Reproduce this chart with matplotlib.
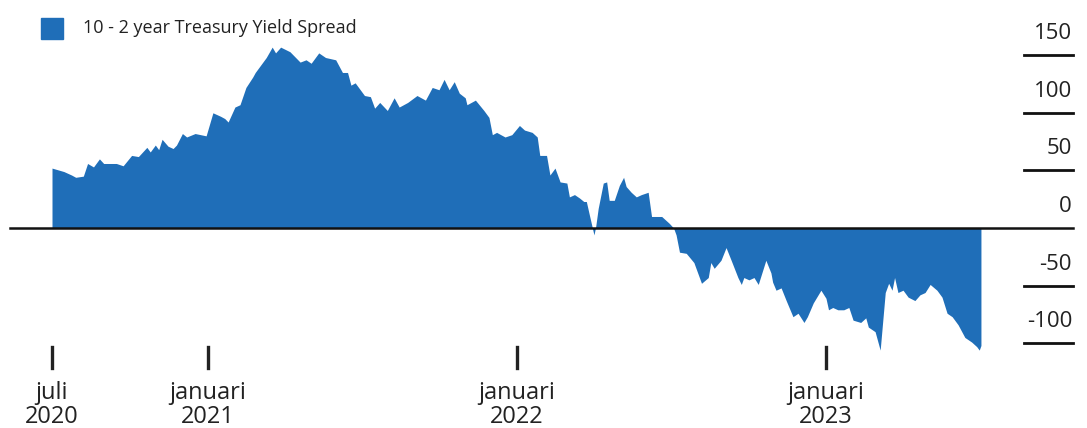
import matplotlib
matplotlib.use("Agg")
import matplotlib.pyplot as plt
import matplotlib.dates as mdates
import matplotlib.transforms as mtrans
from matplotlib.patches import Rectangle
import pandas as pd

plt.rcParams['font.family'] = ['Open Sans', 'DejaVu Sans']

# 10 - 2 year treasury spread (basis points)
dates = pd.to_datetime([
    '2020-07-01', '2020-07-15', '2020-07-24', '2020-07-29', '2020-08-07', '2020-08-12',
    '2020-08-19', '2020-08-26', '2020-08-31', '2020-09-06', '2020-09-15', '2020-09-23',
    '2020-10-03', '2020-10-11', '2020-10-21', '2020-10-25', '2020-10-31', '2020-11-04',
    '2020-11-08', '2020-11-15', '2020-11-21', '2020-11-25', '2020-12-02', '2020-12-07',
    '2020-12-17', '2020-12-30', '2021-01-07', '2021-01-16', '2021-01-21', '2021-01-25',
    '2021-02-02', '2021-02-08', '2021-02-15', '2021-02-23', '2021-02-26', '2021-03-04',
    '2021-03-11', '2021-03-18', '2021-03-22', '2021-03-28', '2021-04-08', '2021-04-20',
    '2021-04-27', '2021-05-03', '2021-05-12', '2021-05-20', '2021-06-01', '2021-06-09',
    '2021-06-15', '2021-06-19', '2021-06-24', '2021-07-05', '2021-07-12', '2021-07-17',
    '2021-07-23', '2021-08-01', '2021-08-09', '2021-08-15', '2021-08-25', '2021-09-05',
    '2021-09-15', '2021-09-23', '2021-10-01', '2021-10-07', '2021-10-13', '2021-10-19',
    '2021-10-25', '2021-11-01', '2021-11-03', '2021-11-13', '2021-11-23', '2021-11-29',
    '2021-12-03', '2021-12-08', '2021-12-18', '2021-12-26', '2022-01-04', '2022-01-10',
    '2022-01-19', '2022-01-25', '2022-01-28', '2022-02-05', '2022-02-09', '2022-02-15',
    '2022-02-21', '2022-03-01', '2022-03-04', '2022-03-10', '2022-03-16', '2022-03-21',
    '2022-03-24', '2022-03-28', '2022-04-02', '2022-04-04', '2022-04-07', '2022-04-13',
    '2022-04-17', '2022-04-20', '2022-04-26', '2022-05-02', '2022-05-07', '2022-05-10',
    '2022-05-16', '2022-05-22', '2022-05-28', '2022-06-05', '2022-06-09', '2022-06-15',
    '2022-06-21', '2022-06-30', '2022-07-05', '2022-07-08', '2022-07-12', '2022-07-20',
    '2022-07-29', '2022-08-07', '2022-08-15', '2022-08-18', '2022-08-22', '2022-08-30',
    '2022-09-05', '2022-09-11', '2022-09-19', '2022-09-23', '2022-09-26', '2022-10-02',
    '2022-10-08', '2022-10-13', '2022-10-19', '2022-10-22', '2022-10-28', '2022-10-30',
    '2022-11-03', '2022-11-09', '2022-11-15', '2022-11-23', '2022-11-29', '2022-12-06',
    '2022-12-10', '2022-12-17', '2022-12-26', '2023-01-01', '2023-01-04', '2023-01-09',
    '2023-01-15', '2023-01-22', '2023-01-28', '2023-02-02', '2023-02-11', '2023-02-17',
    '2023-02-20', '2023-02-28', '2023-03-06', '2023-03-12', '2023-03-16', '2023-03-20',
    '2023-03-23', '2023-03-27', '2023-04-02', '2023-04-08', '2023-04-16', '2023-04-22',
    '2023-04-28', '2023-05-04', '2023-05-12', '2023-05-18', '2023-05-24', '2023-05-30',
    '2023-06-06', '2023-06-14', '2023-06-22', '2023-06-28', '2023-07-01', '2023-07-03',
])
spread = [
    52, 49, 46, 44, 45, 56,
    53, 60, 56, 56, 56, 54,
    63, 62, 70, 66, 72, 68,
    77, 71, 69, 72, 82, 79,
    82, 80, 100, 97, 95, 92,
    105, 107, 122, 131, 135, 141,
    148, 157, 152, 157, 153, 144,
    146, 143, 152, 148, 146, 135,
    135, 124, 126, 115, 114, 104,
    109, 102, 113, 105, 109, 115,
    111, 122, 120, 129, 120, 127,
    117, 113, 107, 111, 102, 96,
    81, 83, 79, 81, 89, 85,
    83, 79, 63, 63, 46, 52,
    40, 39, 27, 29, 26, 23,
    23, 10, -6, 1, 17, 39,
    40, 24, 24, 37, 44, 36,
    31, 27, 29, 31, 10, 10,
    10, 4, 0, -6, -21, -22,
    -30, -48, -43, -30, -35, -28,
    -17, -28, -43, -49, -43, -45,
    -43, -49, -35, -28, -39, -47,
    -54, -52, -63, -77, -74, -82,
    -77, -65, -54, -61, -71, -69,
    -71, -71, -69, -80, -82, -78,
    -86, -90, -106, -56, -48, -54,
    -43, -56, -54, -60, -63, -58,
    -56, -49, -54, -60, -74, -77,
    -84, -95, -99, -103, -106, -102,
]

tick_dates = pd.to_datetime(['2020-07-01', '2021-01-01', '2022-01-01', '2023-01-01'])
tick_months = ['juli', 'januari', 'januari', 'januari']
tick_years = ['2020', '2021', '2022', '2023']
y_ticks = [150, 100, 50, 0, -50, -100]
legend_label = '10 - 2 year Treasury Yield Spread'

BLUE = '#1f6eb8'
INK = '#222222'

W, H = 1087, 428
fig = plt.figure(figsize=(W / 100, H / 100), dpi=100)
ax = fig.add_axes([0, 0, 1, 1])
ax.axis('off')

# scale so it lines up with the picture: ~0.847 px per day, 1.152 px per bp
px_per_day = 0.8468
x0 = mdates.date2num(tick_dates[0]) - 52 / px_per_day
ax.set_xlim(x0, x0 + W / px_per_day)
px_per_bp = 1.152
ax.set_ylim(-200 / px_per_bp, 228 / px_per_bp)

ax.fill_between(dates, spread, 0, color=BLUE, lw=0)
ax.axhline(0, xmin=10 / W, xmax=1073 / W, color='#111111', lw=1.8)

# right hand scale: short rule under each number
yblend = mtrans.blended_transform_factory(ax.transAxes, ax.transData)
for v in y_ticks:
    if v != 0:
        ax.plot([1024 / W, 1073 / W], [v, v], transform=yblend, color='#111111', lw=2)
    ax.text(1072 / W, v + 16 / px_per_bp, str(v), transform=yblend,
            ha='right', va='baseline', fontsize=16, color=INK)

# date ticks at the bottom
xblend = mtrans.blended_transform_factory(ax.transData, ax.transAxes)
for d, m, yr in zip(tick_dates, tick_months, tick_years):
    ax.plot([d, d], [1 - 347 / H, 1 - 368 / H], transform=xblend, color=INK, lw=2.4)
    ax.text(d, 1 - 399 / H, m, transform=xblend, ha='center', va='baseline',
            fontsize=17, color=INK)
    ax.text(d, 1 - 423 / H, yr, transform=xblend, ha='center', va='baseline',
            fontsize=17, color=INK)

# legend
fig.patches.append(Rectangle((41 / W, 1 - 39 / H), 22 / W, 21 / H,
                             transform=fig.transFigure, color=BLUE))
fig.text(83 / W, 1 - 33 / H, legend_label, ha='left', va='baseline',
         fontsize=13, color=INK)

fig.savefig('out.png', dpi=100)
